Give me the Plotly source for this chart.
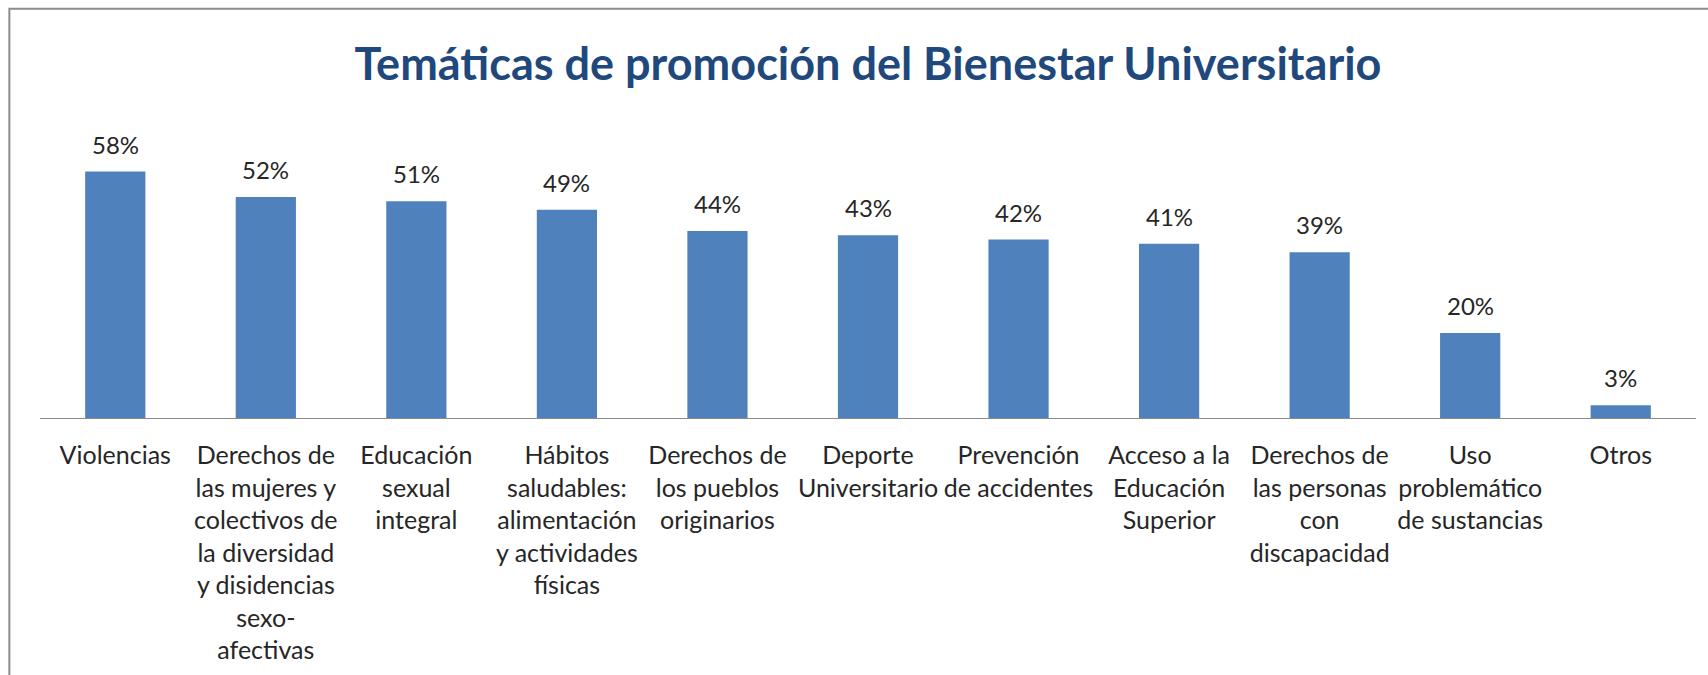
import plotly.graph_objects as go

# Topics and share of institutions that promote each one (%)
categorias = [
    "Violencias",
    "Derechos de<br>las mujeres y<br>colectivos de<br>la diversidad<br>y disidencias<br>sexo-<br>afectivas",
    "Educación<br>sexual<br>integral",
    "Hábitos<br>saludables:<br>alimentación<br>y actividades<br>físicas",
    "Derechos de<br>los pueblos<br>originarios",
    "Deporte<br>Universitario",
    "Prevención<br>de accidentes",
    "Acceso a la<br>Educación<br>Superior",
    "Derechos de<br>las personas<br>con<br>discapacidad",
    "Uso<br>problemático<br>de sustancias",
    "Otros",
]
porcentajes = [58, 52, 51, 49, 44, 43, 42, 41, 39, 20, 3]

titulo = "Temáticas de promoción del Bienestar Universitario"

BAR_COLOR = "#4F81BD"
TEXT_COLOR = "#262626"
FONT = "Lato"

fig = go.Figure(
    go.Bar(
        x=categorias,
        y=porcentajes,
        marker=dict(color=BAR_COLOR, line=dict(width=0)),
        hoverinfo="skip",
    )
)

# Value labels above each bar
for cat, val in zip(categorias, porcentajes):
    fig.add_annotation(
        x=cat, y=val, text=f"{val}%", showarrow=False,
        xref="x", yref="y", yanchor="bottom", yshift=11,
        font=dict(family=FONT, size=24, color=TEXT_COLOR),
    )

# Chart frame
fig.add_shape(
    type="rect", xref="paper", yref="paper",
    x0=-0.0185, x1=1.2, y0=-1.2, y1=1.605,
    line=dict(color="#8C8C8C", width=2), fillcolor="rgba(0,0,0,0)",
    layer="below",
)

fig.update_layout(
    width=1708, height=675,
    margin=dict(l=40, r=12, t=163, b=257),
    paper_bgcolor="white", plot_bgcolor="white",
    bargap=0.6,
    showlegend=False,
    title=dict(
        text=titulo, x=0.5, xref="paper", xanchor="center",
        y=1 - 64.5 / 675, yref="container", yanchor="middle",
        font=dict(family=FONT, size=45, color="#1F497D", weight=700),
    ),
    xaxis=dict(
        type="category", range=[-0.5, 10.5], tickangle=0,
        showline=True, linecolor="#8A8A8A", linewidth=1,
        ticks="outside", ticklen=15, tickcolor="rgba(0,0,0,0)",
        tickfont=dict(family=FONT, size=25, color=TEXT_COLOR),
        showgrid=False, fixedrange=True,
    ),
    yaxis=dict(
        range=[0, 60], visible=False, showgrid=False, zeroline=False,
        fixedrange=True,
    ),
)

fig.write_html("out.html")
